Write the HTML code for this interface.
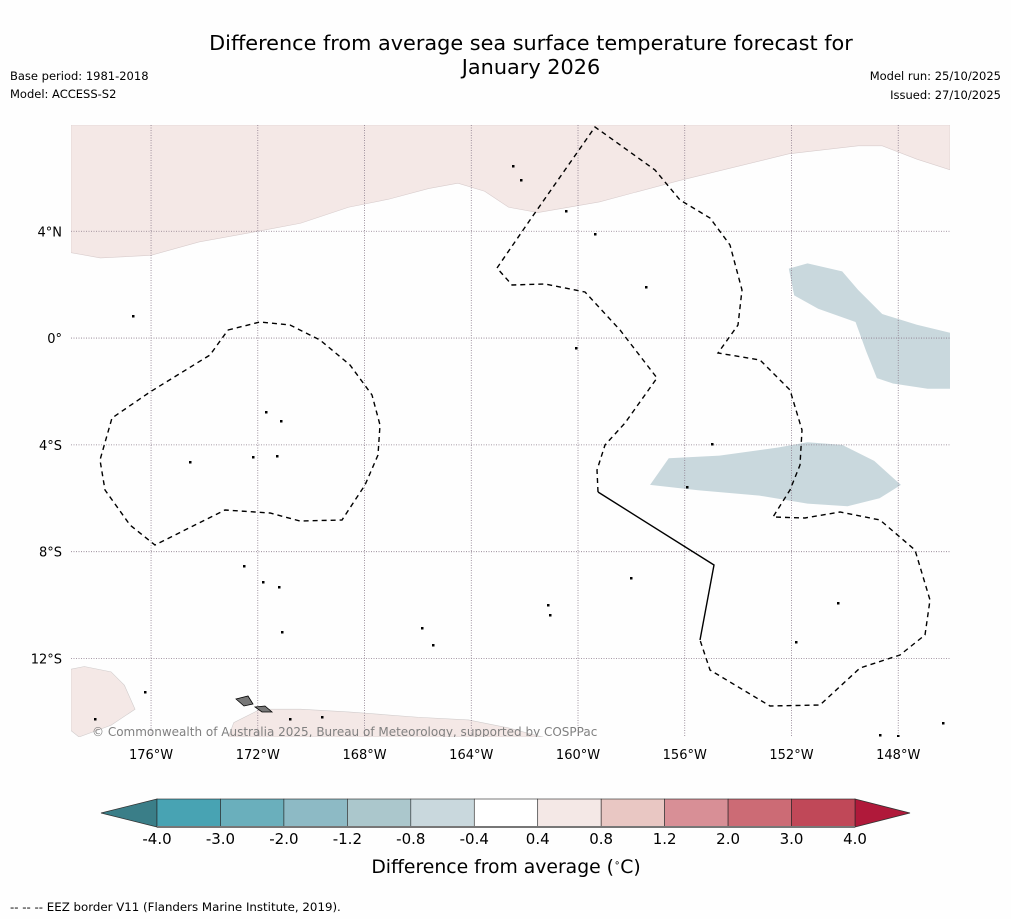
<!DOCTYPE html>
<html><head><meta charset="utf-8">
<style>
body{margin:0;background:#fefefe;font-family:"DejaVu Sans","Liberation Sans",sans-serif;}
svg{display:block}
</style></head>
<body>
<svg id="chart" width="1011" height="919" viewBox="0 0 1011 919">
<rect width="1011" height="919" fill="#fefefe"/>
<text x="531" y="50" text-anchor="middle" font-size="20.8" fill="#000">Difference from average sea surface temperature forecast for</text>
<text x="531" y="74" text-anchor="middle" font-size="20.8" fill="#000">January 2026</text>
<text x="10" y="80" font-size="11.5">Base period: 1981-2018</text>
<text x="10" y="98" font-size="11.5">Model: ACCESS-S2</text>
<text x="1001" y="80" font-size="11.5" text-anchor="end">Model run: 25/10/2025</text>
<text x="1001" y="99" font-size="11.5" text-anchor="end">Issued: 27/10/2025</text>
<g id="map"></g>
<g id="cbar"></g>
<text x="506" y="873" text-anchor="middle" font-size="18.8">Difference from average (<tspan font-size="10" dy="-7">∘</tspan><tspan dy="7">C)</tspan></text>
<text x="10" y="911" font-size="11.8">--  --  -- EEZ border V11 (Flanders Marine Institute, 2019).</text>
</svg>
<script>
const NS="http://www.w3.org/2000/svg";
const lonMin=-179, lonMax=-146.06, latMin=-14.94, latMax=7.98;
const X0=71,X1=950,Y0=125,Y1=737;
const lonTicks=[-176,-172,-168,-164,-160,-156,-152,-148];
const latTicks=[4,0,-4,-8,-12];
const pinkNorthLon=[-179,-177.9,-176,-174.2,-172,-170.4,-168.6,-167.1,-165.6,-164.5,-163.5,-162.6,-161.5,-159.2,-156.2,-152.1,-149.5,-148.6,-147.3,-146.06,-146.06,-179];
const pinkNorthLat=[3.2,3.0,3.1,3.6,4.0,4.3,4.9,5.2,5.6,5.8,5.5,4.9,4.7,5.1,5.9,6.9,7.2,7.2,6.7,6.3,7.98,7.98];
const blueEastLon=[-152.1,-151.4,-150.1,-149.5,-148.6,-147.3,-146.06,-146.06,-146.9,-148.2,-148.8,-149.2,-149.6,-151,-151.9];
const blueEastLat=[2.6,2.8,2.5,1.8,0.9,0.5,0.2,-1.9,-1.9,-1.7,-1.5,-0.5,0.6,1.1,1.6];
const blueSouthLon=[-157.3,-156.6,-154.7,-152.5,-151.4,-150.1,-148.9,-147.9,-148.7,-149.9,-151.4,-153.2,-155.5];
const blueSouthLat=[-5.5,-4.5,-4.4,-4.1,-3.9,-4.0,-4.6,-5.5,-6.0,-6.3,-6.2,-5.9,-5.7];
const pinkSWLon=[-179,-178.5,-177.5,-177,-176.6,-177.5,-178.7,-179];
const pinkSWLat=[-12.4,-12.3,-12.5,-13,-13.9,-14.5,-14.94,-14.7];
const pinkSLon=[-173.1,-172.9,-171.9,-170.4,-168.6,-166,-164.1,-162.6,-161.5,-161.3];
const pinkSLat=[-14.94,-14.4,-13.9,-13.9,-14,-14.2,-14.3,-14.6,-14.9,-14.94];
const cbTicks=["-4.0","-3.0","-2.0","-1.2","-0.8","-0.4","0.4","0.8","1.2","2.0","3.0","4.0"];
const cbColors=["#48a3b3","#6aafbc","#8dbac5","#abc7cc","#c9d8dd","#ffffff","#f4e8e6","#e9c7c3","#d88f96","#cc6b75","#c04858"];

const xs=l=>X0+(l-lonMin)/(lonMax-lonMin)*(X1-X0);
const ys=l=>Y0+(latMax-l)/(latMax-latMin)*(Y1-Y0);
const map=document.getElementById('map');
function mk(tag,attrs,parent){const e=document.createElementNS(NS,tag);for(const k in attrs)e.setAttribute(k,attrs[k]);parent.appendChild(e);return e;}
const clip=mk('clipPath',{id:'mc'},map);mk('rect',{x:X0,y:Y0,width:X1-X0,height:Y1-Y0},clip);
const inner=mk('g',{'clip-path':'url(#mc)'},map);
function poly(lons,lats,fill,stroke,name){
  const p=mk('polygon',{points:lons.map((l,i)=>xs(l)+','+ys(lats[i])).join(' '),fill:fill,stroke:stroke,'stroke-width':0.6},inner);
  
  
}
poly(pinkNorthLon,pinkNorthLat,'#f4e8e6','#d8cccc','anomaly-region-north-warm');
poly(blueEastLon,blueEastLat,'#c9d8dd','none','anomaly-region-east-cool');
poly(blueSouthLon,blueSouthLat,'#c9d8dd','none','anomaly-region-south-cool');
poly(pinkSWLon,pinkSWLat,'#f4e8e6','#d0cccc','anomaly-region-southwest-warm');
poly(pinkSLon,pinkSLat,'#f4e8e6','#d0cccc','anomaly-region-south-warm');
lonTicks.forEach(l=>{
  const ln=mk('line',{x1:xs(l),x2:xs(l),y1:Y0,y2:Y1,stroke:'#8a7a8a','stroke-width':0.8,'stroke-dasharray':'1,1.5'},inner);
  
  
  const t=mk('text',{x:xs(l),y:759,'text-anchor':'middle','font-size':13},document.getElementById('chart'));
  t.textContent=Math.abs(l)+'°W';
  
  
});
latTicks.forEach(l=>{
  const ln=mk('line',{x1:X0,x2:X1,y1:ys(l),y2:ys(l),stroke:'#8a7a8a','stroke-width':0.8,'stroke-dasharray':'1,1.5'},inner);
  
  
  const t=mk('text',{x:62,y:ys(l)+5,'text-anchor':'end','font-size':13},document.getElementById('chart'));
  t.textContent=l===0?'0°':Math.abs(l)+'°'+(l>0?'N':'S');
  
  
});
const eez1="228,330 260,322 290,325 320,340 350,365 372,395 380,425 378,455 365,485 342,520 300,521 270,513 225,510 155,545 130,525 105,490 100,460 112,418 150,392 210,355 228,330";
const eez2="598,492 597,470 605,445 625,423 657,378 620,330 585,292 545,284 512,285 497,268 530,220 595,127 630,152 655,170 680,200 710,218 730,245 742,290 738,325 718,353 760,360 790,390 802,430 800,465 790,490 773,517 805,518 840,512 880,520 915,550 930,600 925,635 900,655 860,668 820,705 770,706 710,670 700,640";
[[eez1,'eez-border-west'],[eez2,'eez-border-east']].forEach(([pts,n])=>{
  const e=mk('polyline',{points:pts,fill:'none',stroke:'#000','stroke-width':1.4,'stroke-dasharray':'5,4'},inner);
  
  
});
const s=mk('polyline',{points:"598,492 714,565 700,640",fill:'none',stroke:'#000','stroke-width':1.4},inner);


const isl=[[513,166],[521,180],[566,211],[595,234],[646,287],[133,316],[266,412],[281,421],[190,462],[253,457],[277,456],[576,348],[712,444],[687,487],[631,578],[244,566],[263,582],[279,587],[548,605],[550,615],[422,628],[282,632],[433,645],[838,603],[796,642],[145,692],[95,719],[290,719],[322,717],[880,735],[898,736],[943,723]];
isl.forEach(([x,y])=>{const c=mk('rect',{x:x-1,y:y-1,width:2.5,height:2.5,fill:'#000'},inner);
});
[["236,699 248,696 253,704 244,706","samoa-savaii"],["255,707 265,706 272,712 262,712","samoa-upolu"]].forEach(([p,n])=>{
 const e=mk('polygon',{points:p,fill:'#777',stroke:'#000','stroke-width':0.8},inner);
 });
const cp=mk('text',{x:92,y:736,'font-size':12,fill:'#808080'},inner);
cp.textContent='© Commonwealth of Australia 2025, Bureau of Meteorology, supported by COSPPac';

const cb=document.getElementById('cbar');
const cx0=157,cx1=855,cy0=799,cy1=827,w=(cx1-cx0)/cbColors.length;
const la=mk('polygon',{points:`${cx0},${cy0} ${cx0},${cy1} 101,813`,fill:'#3a7e88',stroke:'#333','stroke-width':0.8},cb);

const ra=mk('polygon',{points:`${cx1},${cy0} ${cx1},${cy1} 910,813`,fill:'#b0193a',stroke:'#333','stroke-width':0.8},cb);

cbColors.forEach((c,i)=>{const r=mk('rect',{x:cx0+i*w,y:cy0,width:w,height:cy1-cy0,fill:c,stroke:'#222','stroke-width':0.6},cb);
});
mk('line',{x1:cx0,x2:cx1,y1:cy1,y2:cy1,stroke:'#777','stroke-width':2},cb);
cbTicks.forEach((t,i)=>{const e=mk('text',{x:cx0+i*w,y:844,'text-anchor':'middle','font-size':15},cb);e.textContent=t;
});
</script>
</body></html>
